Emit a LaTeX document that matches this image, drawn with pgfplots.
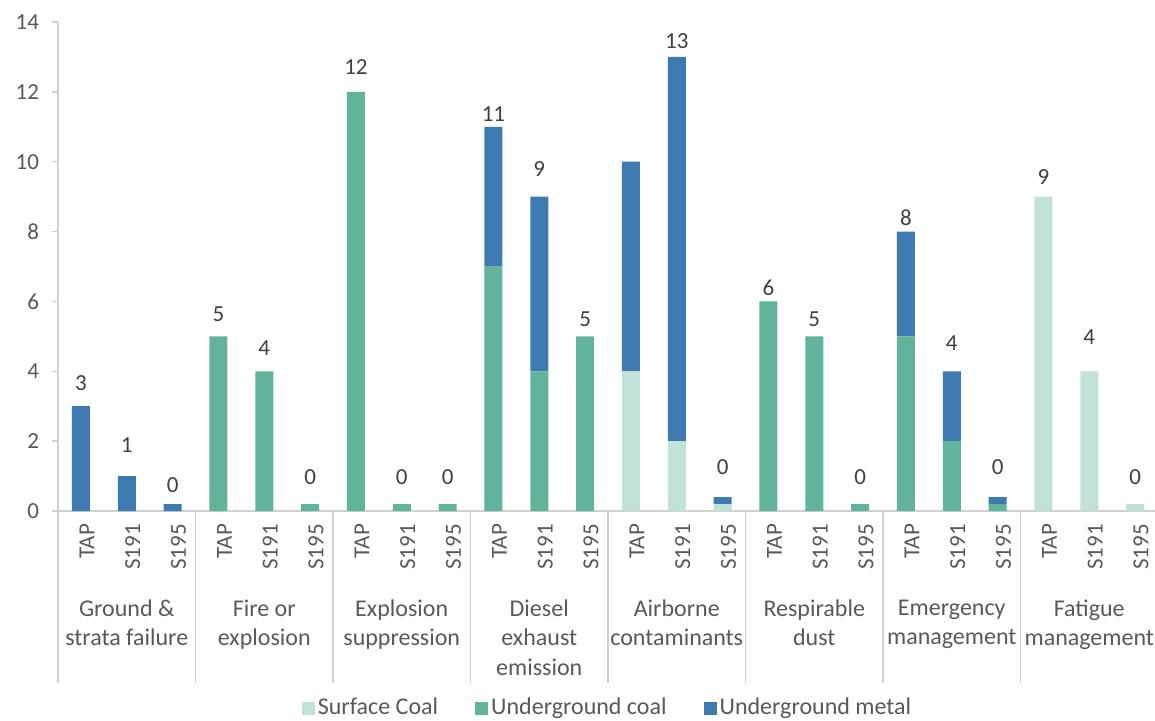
\documentclass[border=0pt]{standalone}
\usepackage{pgfplots}
\pgfplotsset{compat=1.18}
\usepackage{pgfplotstable}
\usepackage{fontspec}
\setmainfont{Carlito}
\definecolor{surf}{HTML}{C1E2D8}
\definecolor{coal}{HTML}{62B39B}
\definecolor{metal}{HTML}{3D7AB2}
\definecolor{txt}{HTML}{595959}
\definecolor{lab}{HTML}{404040}
\definecolor{axl}{HTML}{D0D0D0}

% ly = vertical position of the data label (as in the reference)
\pgfplotstableread{
x surface coal metal ly lab
0 0 0 3 3.66 3
1 0 0 1 1.89 1
2 0 0 0.2 0.74 0
3 0 5 0 5.64 5
4 0 4 0 4.67 4
5 0 0.2 0 0.97 0
6 0 12 0 12.71 12
7 0 0.2 0 0.97 0
8 0 0.2 0 0.97 0
9 0 7 4 11.35 11
10 0 4 5 9.79 9
11 0 5 0 5.50 5
12 4 0 6 10 {}
13 2 0 11 13.44 13
14 0.2 0 0.2 1.26 0
15 0 6 0 6.40 6
16 0 5 0 5.50 5
17 0 0.2 0 0.97 0
18 0 5 3 8.40 8
19 0 2 2 4.82 4
20 0 0.2 0.2 1.26 0
21 9 0 0 9.55 9
22 4 0 0 4.97 4
23 0.2 0 0 0.97 0
}\data

\newcommand{\fs}{\fontsize{11.5}{14}\selectfont}
\newcommand{\fc}{\fontsize{12}{14.6}\selectfont}

\begin{document}
\begin{tikzpicture}
\useasboundingbox (0pt,0pt) rectangle (577.5pt,-360pt);
\begin{axis}[
  at={(29pt,-255.5pt)}, anchor=south west,
  scale only axis, width=550pt, height=244.5pt,
  ybar stacked, bar width=9pt,
  xmin=-0.5, xmax=23.5, ymin=0, ymax=14,
  ytick={0,2,...,14},
  xtick={0,...,23},
  xticklabels={TAP,S191,S195,TAP,S191,S195,TAP,S191,S195,TAP,S191,S195,TAP,S191,S195,TAP,S191,S195,TAP,S191,S195,TAP,S191,S195},
  axis x line*=bottom, axis y line*=left,
  axis line style={axl, line width=0.75pt},
  tick align=outside, major tick length=3pt,
  ytick style={axl, line width=0.75pt},
  xtick style={draw=none},
  /pgf/number format/assume math mode=true,
  tick label style={font=\fs, text=txt},
  y tick label style={xshift=-3pt},
  x tick label style={rotate=90, anchor=east, yshift=-3pt},
  legend style={at={(0.5,-0.403)}, anchor=center, legend columns=-1, draw=none, font=\fc, text=txt,
    nodes={inner xsep=1.5pt},
    /tikz/every even column/.append style={column sep=17pt}},
  legend image code/.code={\fill[#1] (0pt,-3.25pt) rectangle (6.5pt,3.25pt);},
  clip=false,
]
\addplot[fill=surf, draw=none] table[x=x, y=surface] {\data};
\addplot[fill=coal, draw=none] table[x=x, y=coal] {\data};
\addplot[fill=metal, draw=none] table[x=x, y=metal] {\data};
\legend{Surface Coal, Underground coal, Underground metal}

\draw[axl, line width=0.75pt] (axis cs:-0.5,0) -- ++(0pt,-86pt);
\draw[axl, line width=0.75pt] (axis cs:2.5,0) -- ++(0pt,-86pt);
\draw[axl, line width=0.75pt] (axis cs:5.5,0) -- ++(0pt,-86pt);
\draw[axl, line width=0.75pt] (axis cs:8.5,0) -- ++(0pt,-86pt);
\draw[axl, line width=0.75pt] (axis cs:11.5,0) -- ++(0pt,-86pt);
\draw[axl, line width=0.75pt] (axis cs:14.5,0) -- ++(0pt,-86pt);
\draw[axl, line width=0.75pt] (axis cs:17.5,0) -- ++(0pt,-86pt);
\draw[axl, line width=0.75pt] (axis cs:20.5,0) -- ++(0pt,-86pt);

\tikzset{cat/.style={anchor=north, align=center, font=\fc, text=txt, yshift=-41pt}}
\node[cat] at (axis cs:1,0) {Ground \&\\strata failure};
\node[cat] at (axis cs:4,0) {Fire or\\explosion};
\node[cat] at (axis cs:7,0) {Explosion\\suppression};
\node[cat] at (axis cs:10,0) {Diesel\\exhaust\\emission};
\node[cat] at (axis cs:13,0) {Airborne\\contaminants};
\node[cat] at (axis cs:16,0) {Respirable\\dust};
\node[cat] at (axis cs:19,0) {Emergency\\management};
\node[cat] at (axis cs:22,0) {Fatigue\\management};
\end{axis}
\begin{axis}[
  at={(29pt,-255.5pt)}, anchor=south west,
  scale only axis, width=550pt, height=244.5pt,
  xmin=-0.5, xmax=23.5, ymin=0, ymax=14,
  hide axis, clip=false,
]
\addplot[draw=none, mark=none, nodes near coords, point meta=explicit symbolic,
  nodes near coords style={font=\fs, text=lab, anchor=center}]
  table[x=x, y=ly, meta=lab] {\data};
\end{axis}
\end{tikzpicture}
\end{document}
